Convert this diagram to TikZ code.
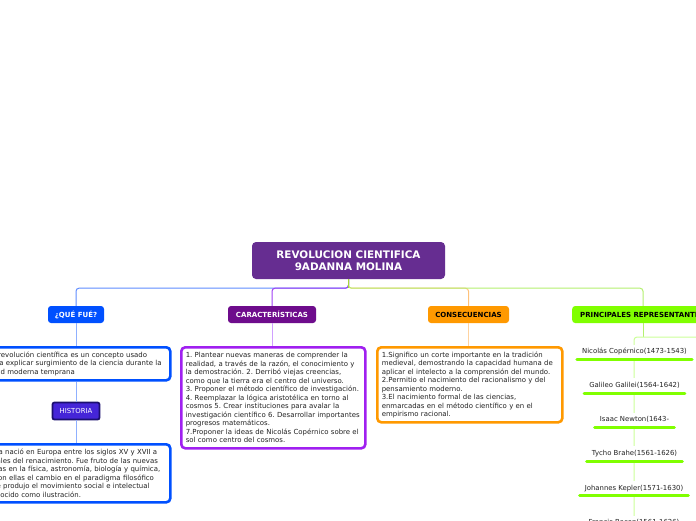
\documentclass[tikz,border=0pt]{standalone}
\usepackage{fontspec}
\setmainfont{DejaVu Sans}
\frenchspacing
\definecolor{rootc}{HTML}{662D91}
\definecolor{bluec}{HTML}{0050FF}
\definecolor{purc}{HTML}{6E0C8C}
\definecolor{violc}{HTML}{A020F0}
\definecolor{orc}{HTML}{FF9900}
\definecolor{grc}{HTML}{80FF00}
\definecolor{histc}{HTML}{4525D8}
\definecolor{histb}{HTML}{1C0F70}
\definecolor{bline}{HTML}{5F8CFF}
\definecolor{vline}{HTML}{A040F5}
\definecolor{oline}{HTML}{FFC27A}
\definecolor{gline}{HTML}{B4F070}
\definecolor{gdark}{HTML}{A8D838}
\definecolor{blight}{HTML}{8FB0FF}
\definecolor{vlight}{HTML}{D0A0FF}
\definecolor{olight}{HTML}{FFD3A0}
\definecolor{glight}{HTML}{CCFF99}
\definecolor{txt}{HTML}{222222}
\tikzset{
  rootbox/.style={fill=rootc, rounded corners=4pt, text=white, align=center,
    font=\fontsize{10.4}{11.5}\selectfont\bfseries, minimum width=193pt, minimum height=37pt, inner sep=0pt},
  catbox/.style={rounded corners=3pt, font=\fontsize{7}{8}\selectfont\bfseries,
    minimum height=17pt, inner sep=0pt},
  textbox/.style={fill=white, rounded corners=4pt, line width=2.6pt, align=left,
    font=\fontsize{6.95}{8.5}\selectfont, text=txt, inner xsep=4.5pt, inner ysep=0pt, anchor=north west},
  itembox/.style={fill=white, font=\fontsize{6.9}{8}\selectfont, text=txt,
    inner xsep=5pt, inner ysep=4pt, text height=5pt, text depth=1.5pt, anchor=south},
  uline/.style={grc, line width=3pt, line cap=round},
  conn/.style={line width=1pt, rounded corners=3pt},
}
\begin{document}
\begin{tikzpicture}[x=1pt, y=-1pt]
\clip (0,0) rectangle (696,520);
\fill[white] (0,0) rectangle (696,520);

% root
\node[rootbox] (root) at (348.5,260.5) {REVOLUCION CIENTIFICA\\9ADANNA MOLINA};

% categories
\node[catbox, fill=bluec, text=white, minimum width=56pt] (qf) at (76,314.5) {¿QUÉ FUÉ?};
\node[catbox, fill=purc, text=white, minimum width=88pt] (car) at (272,314.5) {CARACTERÍSTICAS};
\node[catbox, fill=orc, text=black, minimum width=81pt] (con) at (468.5,314.5) {CONSECUENCIAS};
\node[catbox, fill=grc, text=black, inner xsep=8pt, anchor=west] (pri) at (572,314.5) {PRINCIPALES REPRESENTANTES};

% root connectors
\draw[conn, bline] (root.south) -- ++(0,9) -| (qf.north);
\draw[conn, oline] (root.south) -- ++(0,9) -| (con.north);
\draw[conn, vline] (root.south) -- ++(0,9) -| (car.north);
\draw[conn, gline] (root.south) -- ++(0,9) -| (pri.north -| 643,0);
\draw[line width=1pt, gdark] (root.south) -- ++(0,9);

% text boxes
\node[textbox, draw=bluec, minimum width=187pt, minimum height=33pt, text width=178pt] (qft) at (-18,346)
  {La revolución científica es un concepto usado\\para explicar surgimiento de la ciencia durante la\\edad moderna temprana};
\node[fill=histc, draw=histb, line width=1.8pt, rounded corners=2pt, text=white,
  font=\fontsize{6.9}{8}\selectfont, minimum width=47pt, minimum height=17pt, inner sep=0pt] (his) at (76,411) {HISTORIA};
\node[textbox, draw=bluec, minimum width=187pt, minimum height=58pt, text width=178pt] (hist) at (-18,443)
  {Esta nació en Europa entre los siglos XV y XVII a\\finales del renacimiento. Fue fruto de las nuevas\\ideas en la física, astronomía, biología y química,\\y con ellas el cambio en el paradigma filosófico\\que produjo el movimiento social e intelectual\\conocido como ilustración.};
\node[textbox, draw=violc, minimum width=184pt, minimum height=101pt, text width=175pt] (cart) at (180,346)
  {1. Plantear nuevas maneras de comprender la\\realidad, a través de la razón, el conocimiento y\\la demostración. 2. Derribó viejas creencias,\\como que la tierra era el centro del universo.\\3. Proponer el método científico de investigación.\\4. Reemplazar la lógica aristotélica en torno al\\cosmos 5. Crear instituciones para avalar la\\investigación científico 6. Desarrollar importantes\\progresos matemáticos.\\7.Proponer la ideas de Nicolás Copérnico sobre el\\sol como centro del cosmos.};
\node[textbox, draw=orc, minimum width=185pt, minimum height=75pt, text width=176pt] (cont) at (376,346)
  {1.Significo un corte importante en la tradición\\medieval, demostrando la capacidad humana de\\aplicar el intelecto a la comprensión del mundo.\\2.Permitio el nacimiento del racionalismo y del\\pensamiento moderno.\\3.El nacimiento formal de las ciencias,\\enmarcadas en el método científico y en el\\empirismo racional.};

% category to box connectors
\draw[line width=1pt, blight] (qf.south) -- (qf.south |- qft.north);
\draw[line width=1pt, blight] (his.north |- qft.south) -- (his.north);
\draw[line width=1pt, blight] (his.south) -- (his.south |- hist.north);
\draw[line width=1pt, vlight] (car.south) -- (car.south |- cart.north);
\draw[line width=1pt, olight] (con.south) -- (con.south |- cont.north);

% representatives
\coordinate (sp) at (634,337);
\coordinate (spr) at (700,337);
\coordinate (spb) at (634,530);
\draw[line width=1pt, gline] (pri.south -| 643,0) -- (643,337);
\draw[conn, glight] (spr) -- (sp) -- (spb);

\node[itembox] (r1) at (634.5,359.3) {Nicolás Copérnico(1473-1543)};
\node[itembox] (r2) at (634.5,393) {Galileo Galilei(1564-1642)};
\node[itembox] (r3) at (634.5,427.3) {Isaac Newton(1643-};
\node[itembox] (r4) at (634.5,461) {Tycho Brahe(1561-1626)};
\node[itembox] (r5) at (634,495.7) {Johannes Kepler(1571-1630)};
\node[itembox] (r6) at (634,530.5) {Francis Bacon(1561-1626)};
\foreach \n in {r1,r2,r3,r4,r5,r6}
  \draw[uline] (\n.south west) -- (\n.south east);
\end{tikzpicture}
\end{document}
